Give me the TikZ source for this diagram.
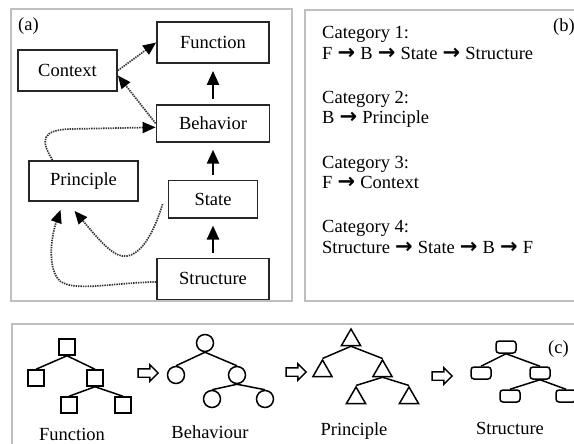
\documentclass[tikz,border=0pt]{standalone}
\usepackage{fontspec}
\setmainfont{Liberation Serif}
\newfontfamily\arrowsym{DejaVu Sans}
\usetikzlibrary{positioning,arrows.meta,shapes.geometric,shapes.arrows}
\newcommand{\lbfont}{\fontsize{18.5}{20.5}\selectfont}
\newcommand{\catarrow}{\hspace{0.5pt}{\arrowsym\bfseries\fontsize{21}{21}\selectfont →}\hspace{0.5pt}}
\tikzset{
  panel/.style ={draw=black!25, line width=1.6pt},
  box/.style   ={draw=black!85, line width=1.8pt, inner sep=0pt, font=\lbfont},
  lab/.style   ={inner sep=0pt, font=\lbfont},
  fl/.style    ={-{Triangle[length=14pt,width=12pt]}, line width=2.4pt,
                 shorten <=5pt, shorten >=7pt},
  dl/.style    ={-{Triangle[length=13pt,width=11pt,color=black]}, draw=black!80,
                 line width=1.7pt, dash pattern=on 1.4pt off 1pt},
  tl/.style    ={line width=1.5pt},
  sq/.style    ={draw, line width=1.5pt, minimum size=16pt, inner sep=0pt},
  cir/.style   ={circle, draw, line width=1.5pt, minimum size=17pt, inner sep=0pt},
  tri/.style   ={regular polygon, regular polygon sides=3, draw, line width=1.5pt,
                 minimum size=22pt, inner sep=0pt},
  rbox/.style  ={draw, rounded corners=3pt, line width=1.5pt, minimum width=20pt,
                 minimum height=12pt, inner sep=0pt},
  harr/.style  ={single arrow, draw, line width=1.4pt, minimum height=20pt,
                 minimum width=15pt, single arrow head extend=4pt, inner sep=3.5pt}
}

\begin{document}
\begin{tikzpicture}[x=1pt,y=-1pt]
  \useasboundingbox (0,0) rectangle (574,444);
  \clip (0,0) rectangle (574,444);
  \draw[panel] (11,9) rectangle (292,301);
  \draw[panel] (305,10) rectangle (600,301);
  \draw[panel] (12,324) rectangle (600,470);

  % (a) the categories as a graph
  \node[lab, anchor=base west](la) at (18,31){(a)};
  \node[box, minimum width=112pt, minimum height=41pt](func) at (213,42.5){Function};
  \node[box, minimum width=113pt, minimum height=37pt, below=40pt of func](beh){Behavior};
  \node[box, minimum width=89pt, minimum height=37pt, below=37pt of beh](state){State};
  \node[box, minimum width=112pt, minimum height=41pt, below=39pt of state](struc){Structure};
  \node[box, minimum width=99pt, minimum height=41pt](ctx) at (67.5,70.5){Context};
  \node[box, minimum width=109pt, minimum height=40pt](prin) at (83.5,181){Principle};

  \draw[fl](beh)--(func);
  \draw[fl](state)--(beh);
  \draw[fl](struc)--(state);
  \draw[dl](ctx.east)--(func.west);
  \draw[dl](beh.west)--([yshift=-5pt]ctx.east);
  \draw[dl]([xshift=-31pt]prin.north) .. controls (40,140) and (42,130) .. (70,129)
        --([yshift=-4pt]beh.west);
  \draw[dl]([xshift=-5pt,yshift=-5pt]state.west) .. controls (150,245) and (135,258) .. (122,256)
        .. controls (110,254) and (95,235) .. ([xshift=-9pt,yshift=-9pt]prin.south);
  \draw[dl]([yshift=-3pt]struc.west) .. controls (110,283) and (75,292) .. (60,281)
        .. controls (48,270) and (50,240) .. ([xshift=-23pt,yshift=-8pt]prin.south);

  % (b) the four categories
  \node[lab, anchor=base west](lb) at (553,32){(b)};
  \node[lab, anchor=base west](c1) at (322,39){Category 1:};
  \node[lab, anchor=base west](c1r) at (322,60){F \catarrow{} B \catarrow{} State \catarrow{} Structure};
  \node[lab, anchor=base west](c2) at (322,104){Category 2:};
  \node[lab, anchor=base west](c2r) at (322,124){B \catarrow{} Principle};
  \node[lab, anchor=base west](c3) at (322,168){Category 3:};
  \node[lab, anchor=base west](c3r) at (322,189){F \catarrow{} Context};
  \node[lab, anchor=base west](c4) at (322,233){Category 4:};
  \node[lab, anchor=base west](c4r) at (322,253){Structure \catarrow{} State \catarrow{} B \catarrow{} F};

  % (c) trees
  \node[lab, anchor=base west](lc) at (548,353){(c)};
  \node[sq](f0) at (67,347){};
  \node[sq](f1) at (36,378){};
  \node[sq](f2) at (95,378){};
  \node[sq](f3) at (69,405){};
  \node[sq](f4) at (123,405){};
  \draw[tl](f0.south)--(f1.north);\draw[tl](f0.south)--(f2.north);
  \draw[tl](f2.south)--(f3.north);\draw[tl](f2.south)--(f4.north);
  \node[lab, anchor=base](tf) at (72,440){Function};

  \node[harr](h1) at (146,373){};

  \node[cir](b0) at (205,343){};
  \node[cir](b1) at (176,375){};
  \node[cir](b2) at (237,375){};
  \node[cir](b3) at (212,399){};
  \node[cir](b4) at (265,399){};
  \draw[tl](b0.south)--(b1.north);\draw[tl](b0.south)--(b2.north);
  \draw[tl](b2.south)--(b3.north);\draw[tl](b2.south)--(b4.north);
  \node[lab, anchor=base](tb) at (210,438){Behaviour};

  \node[harr](h2) at (294,372){};

  \node[tri](p0) at (351,340){};
  \node[tri](p1) at (322.5,371){};
  \node[tri](p2) at (382.5,371){};
  \node[tri](p3) at (356,398){};
  \node[tri](p4) at (409,398){};
  \draw[tl](p0.south)--(p1.north);\draw[tl](p0.south)--(p2.north);
  \draw[tl](p2.south)--(p3.north);\draw[tl](p2.south)--(p4.north);
  \node[lab, anchor=base](tp) at (354,435){Principle};

  \node[harr](h3) at (440,376){};

  \node[rbox](s0) at (506,347){};
  \node[rbox](s1) at (481,373){};
  \node[rbox](s2) at (540,373){};
  \node[rbox](s3) at (510,396){};
  \node[rbox](s4) at (566,396){};
  \draw[tl](s0.south)--(s1.north);\draw[tl](s0.south)--(s2.north);
  \draw[tl](s2.south)--(s3.north);\draw[tl](s2.south)--(s4.north);
  \node[lab, anchor=base](ts) at (510,434){Structure};
\end{tikzpicture}
\end{document}
